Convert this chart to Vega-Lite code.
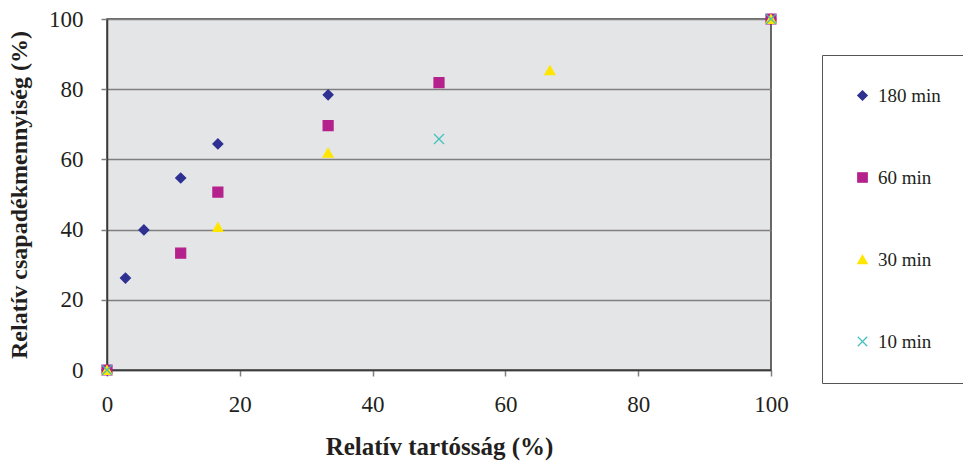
{
  "$schema": "https://vega.github.io/schema/vega-lite/v6.json",
  "width": 664,
  "height": 351,
  "autosize": {"type": "none"},
  "padding": {"left": 107, "top": 19, "right": 192, "bottom": 91},
  "background": "white",
  "config": {
    "font": "Liberation Serif",
    "view": {"fill": "#e4e5e7", "stroke": "#3a3a3a", "strokeWidth": 1.5},
    "axis": {
      "labelFont": "Liberation Serif",
      "labelFontSize": 23,
      "labelColor": "#231f20",
      "labelFlush": false,
      "titleFont": "Liberation Serif",
      "titleFontSize": 24,
      "titleFontWeight": "bold",
      "titleColor": "#231f20",
      "domainColor": "#3a3a3a",
      "domainWidth": 1.5,
      "tickColor": "#808080",
      "tickWidth": 1.5,
      "tickSize": 6
    },
    "legend": {
      "labelFont": "Liberation Serif",
      "labelFontSize": 19,
      "labelColor": "#231f20"
    }
  },
  "data": {
    "values": [
      {"series": "180 min", "k": 1, "x": 0, "y": 0},
      {"series": "180 min", "k": 1, "x": 2.78, "y": 26.2},
      {"series": "180 min", "k": 1, "x": 5.56, "y": 39.9},
      {"series": "180 min", "k": 1, "x": 11.1, "y": 54.7},
      {"series": "180 min", "k": 1, "x": 16.7, "y": 64.4},
      {"series": "180 min", "k": 1, "x": 33.3, "y": 78.4},
      {"series": "180 min", "k": 1, "x": 100, "y": 100},
      {"series": "60 min", "k": 2, "x": 0, "y": 0},
      {"series": "60 min", "k": 2, "x": 11.1, "y": 33.3},
      {"series": "60 min", "k": 2, "x": 16.7, "y": 50.7},
      {"series": "60 min", "k": 2, "x": 33.3, "y": 69.6},
      {"series": "60 min", "k": 2, "x": 50, "y": 81.9},
      {"series": "60 min", "k": 2, "x": 100, "y": 100},
      {"series": "30 min", "k": 3, "x": 0, "y": 0},
      {"series": "30 min", "k": 3, "x": 16.7, "y": 40.7},
      {"series": "30 min", "k": 3, "x": 33.3, "y": 61.9},
      {"series": "30 min", "k": 3, "x": 66.7, "y": 85.4},
      {"series": "30 min", "k": 3, "x": 100, "y": 100},
      {"series": "10 min", "k": 4, "x": 0, "y": 0},
      {"series": "10 min", "k": 4, "x": 50, "y": 65.8},
      {"series": "10 min", "k": 4, "x": 100, "y": 100}
    ]
  },
  "mark": {"type": "point", "filled": true, "size": 100, "strokeWidth": 1.2, "opacity": 1, "clip": false},
  "encoding": {
    "x": {
      "field": "x", "type": "quantitative",
      "scale": {"domain": [0, 100], "nice": false, "zero": true},
      "axis": {"values": [0, 20, 40, 60, 80, 100], "grid": false, "labelFlush": false, "labelPadding": 17, "title": "Relatív tartósság (%)", "titlePadding": 18, "titleFontSize": 25}
    },
    "y": {
      "field": "y", "type": "quantitative",
      "scale": {"domain": [0, 100], "nice": false},
      "axis": {"values": [0, 20, 40, 60, 80, 100], "grid": true, "labelFlush": false, "gridColor": "#7f7f7f", "gridWidth": 1.5, "labelPadding": 18, "title": "Relatív csapadékmennyiség (%)", "titlePadding": 17}
    },
    "fill": {
      "field": "series", "type": "nominal",
      "scale": {"domain": ["180 min", "60 min", "30 min", "10 min"], "range": ["#2e3192", "#b5218c", "#ffe600", "#40bfbf"]},
      "legend": {
        "title": null,
        "orient": "none",
        "legendX": 715,
        "legendY": 36,
        "padding": 31,
        "rowPadding": 62,
        "strokeColor": "#555555",
        "symbolSize": 90,
        "symbolStrokeWidth": 1.2,
        "labelOffset": 6,
        "labelFont": "Liberation Serif",
        "labelFontSize": 19
      }
    },
    "stroke": {
      "field": "series", "type": "nominal",
      "scale": {"domain": ["180 min", "60 min", "30 min", "10 min"], "range": ["#2e3192", "#b5218c", "#ffe600", "#40bfbf"]}
    },
    "shape": {
      "field": "series", "type": "nominal",
      "scale": {"domain": ["180 min", "60 min", "30 min", "10 min"], "range": ["diamond", "square", "triangle-up", "M-1,-1L1,1M-1,1L1,-1"]}
    },
    "order": {"field": "k", "sort": "ascending"}
  }
}
